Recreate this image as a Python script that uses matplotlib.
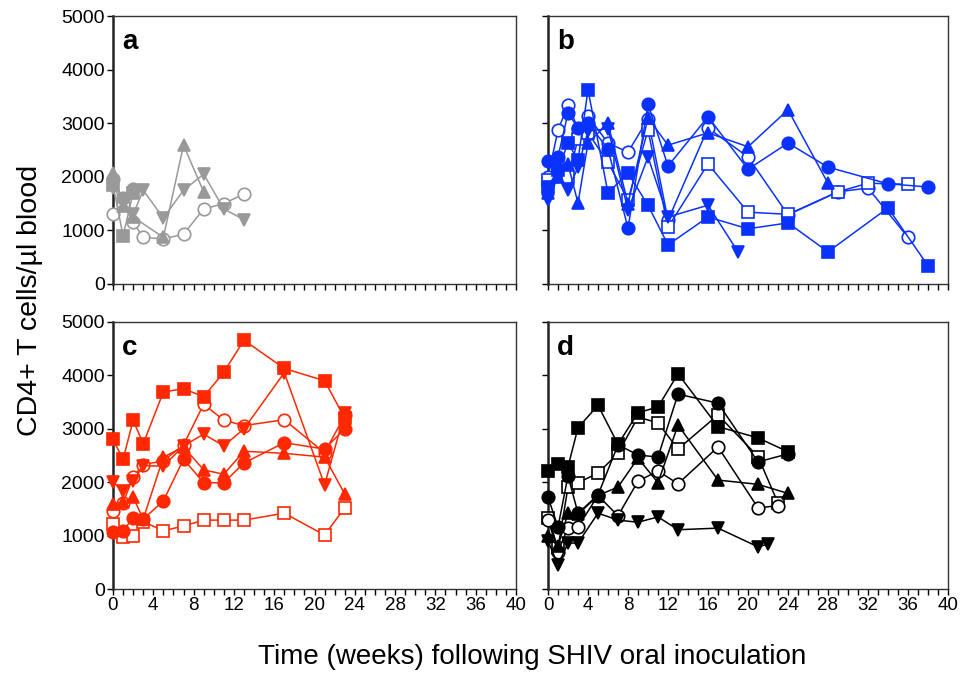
import matplotlib.pyplot as plt
from matplotlib.ticker import MultipleLocator

plt.rcParams["font.family"] = ["Liberation Sans", "DejaVu Sans"]

# panel a (grey)
a_weeks = [0, 1, 2, 3, 5, 7, 9, 11, 13]
a_open_circle = [1300, 1500, 1150, 870, 840, 930, 1400, 1500, 1680]
a_down_tri = [1800, 1550, 1300, 1750, 1230, 1750, 2050, 1400, 1200]
a_up_weeks = [0, 1, 2, 5, 7, 9]
a_up_tri = [2070, 1450, 1250, 870, 2590, 1720]
a_short_weeks = [0, 1, 2]
a_filled_sq = [1850, 900, 1700]
a_filled_circle = [1950, 1600, 1780]

# panel b (blue)
b_sq_weeks = [0, 1, 2, 3, 4, 6, 8, 10, 12, 16, 20, 24, 28, 34, 38]
b_filled_sq = [1810, 2130, 2630, 2310, 3620, 1700, 2070, 1470, 730, 1250, 1030, 1140, 600, 1420, 340]
b_filled_circle = [2300, 2370, 3190, 2910, 3000, 2520, 1040, 3360, 2200, 3120, 2140, 2630, 2180, 1870, 1810]
b_oc_weeks = [0, 1, 2, 3, 4, 6, 8, 10, 12, 16, 20, 24, 29, 32, 36]
b_open_circle = [2000, 2870, 3340, 2900, 3130, 2630, 2460, 3080, 1190, 2910, 2370, 1290, 1720, 1790, 870]
b_open_sq = [1940, 2200, 2000, 2700, 2820, 2270, 1570, 2870, 1060, 2240, 1340, 1300, 1720, 1880, 1860]
b_up_weeks = [0, 1, 2, 3, 4, 6, 8, 10, 12, 16, 20, 24, 28]
b_up_tri = [1700, 2000, 2240, 1510, 2630, 3000, 1500, 3100, 2590, 2820, 2560, 3250, 1880]
b_down_weeks = [0, 1, 2, 3, 4, 6, 8, 10, 12, 16, 19]
b_down_tri = [1570, 2000, 1750, 2180, 2850, 2900, 1380, 2370, 1250, 1470, 600]

# panel c (red)
c_weeks = [0, 1, 2, 3, 5, 7, 9, 11, 13, 17, 21, 23]
c_filled_sq = [2800, 2430, 3160, 2720, 3690, 3750, 3600, 4060, 4660, 4130, 3900, 3200]
c_open_circle = [1460, 1610, 2100, 2330, 2400, 2700, 3460, 3160, 3060, 3170, 2550, 3250]
c_down_tri = [2000, 1840, 2020, 2310, 2300, 2680, 2900, 2680, 3000, 4050, 1950, 3300]
c_up_tri = [1590, 1630, 1720, 1310, 2470, 2660, 2230, 2150, 2580, 2540, 2470, 1780]
c_filled_circle = [1070, 1090, 1330, 1310, 1650, 2430, 1990, 1990, 2360, 2740, 2620, 3000]
c_open_sq = [1220, 970, 990, 1260, 1090, 1180, 1290, 1290, 1290, 1420, 1010, 1520]

# panel d (black)
d_weeks_24 = [0, 1, 2, 3, 5, 7, 9, 11, 13, 17, 21, 24]
d_weeks_23 = [0, 1, 2, 3, 5, 7, 9, 11, 13, 17, 21, 23]
d_weeks_22 = [0, 1, 2, 3, 5, 7, 9, 11, 13, 17, 21, 22]
d_filled_sq = [2210, 2340, 2290, 3020, 3440, 2710, 3300, 3410, 4030, 3040, 2830, 2570]
d_filled_circle = [1720, 1160, 2120, 1420, 1760, 2700, 2510, 2470, 3650, 3480, 2380, 2530]
d_up_tri = [1000, 800, 1420, 1400, 1750, 1910, 2450, 1990, 3070, 2040, 1960, 1790]
d_open_sq = [1330, 770, 1910, 1990, 2170, 2540, 3220, 3110, 2620, 3260, 2480, 1610]
d_open_circle = [1300, 700, 1150, 1160, 1750, 1370, 2020, 2210, 1970, 2660, 1520, 1560]
d_down_tri = [900, 450, 860, 860, 1420, 1290, 1250, 1350, 1110, 1140, 790, 840]

GREY = "#999999"
BLUE = "#0a32ff"
RED = "#ff2800"
BLACK = "#000000"

MARKERS = {"sq": ("s", True), "osq": ("s", False), "ci": ("o", True),
           "oci": ("o", False), "up": ("^", True), "down": ("v", True)}
SIZES = {"s": 8.5, "o": 9, "^": 9, "v": 9}


def draw_series(ax, x, y, kind, color):
    marker, filled = MARKERS[kind]
    ax.plot(x, y, color=color, lw=1.1, marker=marker, ms=SIZES[marker],
            mfc=color if filled else "white", mec=color, mew=1.2, clip_on=False, zorder=3)


def style_axes(ax, label, xlabels, ylabels):
    ax.set_xlim(0, 40)
    ax.set_ylim(0, 5000)
    ax.xaxis.set_major_locator(MultipleLocator(4))
    ax.xaxis.set_minor_locator(MultipleLocator(1))
    ax.yaxis.set_major_locator(MultipleLocator(1000))
    ax.tick_params(which="both", direction="out", length=4, width=1, labelsize=13.5, pad=2)
    ax.tick_params(axis="y", labelsize=14)
    ax.tick_params(labelbottom=xlabels, labelleft=ylabels)
    for side in ["top", "right", "bottom"]:
        ax.spines[side].set_linewidth(1.0)
        ax.spines[side].set_color("#333333")
    ax.spines["left"].set_linewidth(1.8)
    ax.spines["left"].set_color("#222222")
    ax.text(0.022, 0.95, label, transform=ax.transAxes, fontsize=20, fontweight="bold",
            va="top", ha="left")


fig = plt.figure(figsize=(9.67, 6.77), dpi=100)
ax_a = fig.add_axes([113 / 967, 1 - 284 / 677, 403 / 967, 268 / 677])
ax_b = fig.add_axes([548 / 967, 1 - 284 / 677, 400 / 967, 268 / 677])
ax_c = fig.add_axes([113 / 967, 1 - 589 / 677, 403 / 967, 267 / 677])
ax_d = fig.add_axes([548 / 967, 1 - 589 / 677, 400 / 967, 267 / 677])

# a
draw_series(ax_a, a_weeks, a_open_circle, "oci", GREY)
draw_series(ax_a, a_weeks, a_down_tri, "down", GREY)
draw_series(ax_a, a_up_weeks, a_up_tri, "up", GREY)
draw_series(ax_a, a_short_weeks, a_filled_sq, "sq", GREY)
draw_series(ax_a, a_short_weeks, a_filled_circle, "ci", GREY)

# b
draw_series(ax_b, b_oc_weeks, b_open_circle, "oci", BLUE)
draw_series(ax_b, b_oc_weeks, b_open_sq, "osq", BLUE)
draw_series(ax_b, b_up_weeks, b_up_tri, "up", BLUE)
draw_series(ax_b, b_down_weeks, b_down_tri, "down", BLUE)
draw_series(ax_b, b_sq_weeks, b_filled_circle, "ci", BLUE)
draw_series(ax_b, b_sq_weeks, b_filled_sq, "sq", BLUE)

# c
draw_series(ax_c, c_weeks, c_open_sq, "osq", RED)
draw_series(ax_c, c_weeks, c_open_circle, "oci", RED)
draw_series(ax_c, c_weeks, c_filled_circle, "ci", RED)
draw_series(ax_c, c_weeks, c_up_tri, "up", RED)
draw_series(ax_c, c_weeks, c_down_tri, "down", RED)
draw_series(ax_c, c_weeks, c_filled_sq, "sq", RED)

# d
draw_series(ax_d, d_weeks_23, d_open_sq, "osq", BLACK)
draw_series(ax_d, d_weeks_23, d_open_circle, "oci", BLACK)
draw_series(ax_d, d_weeks_22, d_down_tri, "down", BLACK)
draw_series(ax_d, d_weeks_24, d_up_tri, "up", BLACK)
draw_series(ax_d, d_weeks_24, d_filled_circle, "ci", BLACK)
draw_series(ax_d, d_weeks_24, d_filled_sq, "sq", BLACK)

style_axes(ax_a, "a", False, True)
style_axes(ax_b, "b", False, False)
style_axes(ax_c, "c", True, True)
style_axes(ax_d, "d", True, False)

fig.text(30 / 967, 1 - 300 / 677, "CD4+ T cells/µl blood", rotation=90, fontsize=20.5,
         ha="center", va="center")
fig.text(532 / 967, 1 - 657 / 677, "Time (weeks) following SHIV oral inoculation",
         fontsize=20, ha="center", va="center")

fig.savefig("out.png", dpi=100)
